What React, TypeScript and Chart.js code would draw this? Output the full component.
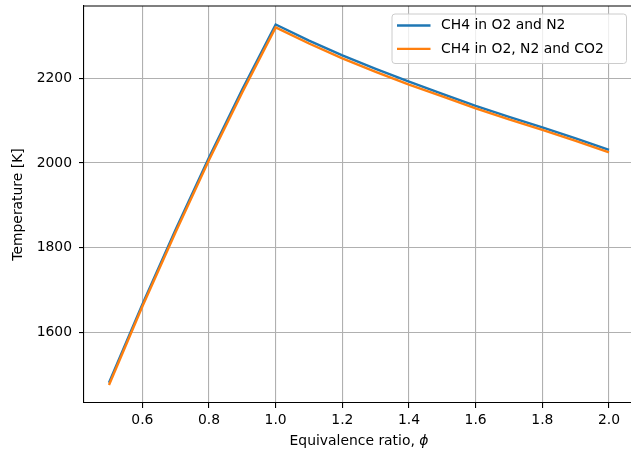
import React, { useEffect, useRef } from "react";
import { Chart, registerables } from "chart.js";

Chart.register(...registerables);

// Equivalence ratio values
const phi = [0.5, 0.6, 0.7, 0.8, 0.9, 1.0, 1.1, 1.2, 1.3, 1.4, 1.5, 1.6, 1.7, 1.8, 1.9, 2.0];
// Adiabatic flame temperature [K], CH4 burned in O2 + N2
const tempO2N2 = [1481, 1666, 1843, 2013, 2174, 2327, 2289, 2254, 2222, 2192, 2163, 2135, 2109, 2084, 2058, 2031];
// Adiabatic flame temperature [K], CH4 burned in O2 + N2 + CO2
const tempO2N2CO2 = [1476, 1661, 1837, 2007, 2167, 2320, 2282, 2247, 2215, 2185, 2157, 2129, 2103, 2078, 2052, 2025];

const seriesLabels = ["CH4 in O2 and N2", "CH4 in O2, N2 and CO2"];
const seriesColors = ["#1f77b4", "#ff7f0e"];
const xTicks = [0.6, 0.8, 1.0, 1.2, 1.4, 1.6, 1.8, 2.0];
const yTicks = [1600, 1800, 2000, 2200];
const xTitle = "Equivalence ratio, ";
const xTitleSymbol = "\u03d5";

const FONT = "'DejaVu Sans', sans-serif";
const FS = 13.9;
const LW = 2.4;

// Top spine of the axes frame
const frameTop = {
  id: "frameTop",
  afterDatasetsDraw(chart: any) {
    const { ctx, chartArea } = chart;
    ctx.save();
    ctx.strokeStyle = "#000";
    ctx.lineWidth = 1.1;
    ctx.beginPath();
    ctx.moveTo(chartArea.left, chartArea.top);
    ctx.lineTo(chartArea.right, chartArea.top);
    ctx.stroke();
    ctx.restore();
  },
};

// X axis title with an italic phi symbol
const xTitlePlugin = {
  id: "xTitlePlugin",
  afterDraw(chart: any) {
    const { ctx, chartArea } = chart;
    ctx.save();
    ctx.fillStyle = "#000";
    ctx.textBaseline = "middle";
    ctx.textAlign = "left";
    const plain = `${FS}px ${FONT}`;
    const ital = `italic ${FS}px ${FONT}`;
    ctx.font = plain;
    const w1 = ctx.measureText(xTitle).width;
    ctx.font = ital;
    const w2 = ctx.measureText(xTitleSymbol).width;
    const center = (chartArea.left + chartArea.right) / 2;
    const x0 = center - (w1 + w2) / 2;
    const y = 441;
    ctx.font = plain;
    ctx.fillText(xTitle, x0, y);
    ctx.font = ital;
    ctx.fillText(xTitleSymbol, x0 + w1, y);
    ctx.restore();
  },
};

// Legend box in the upper right corner of the plot area
const innerLegend = {
  id: "innerLegend",
  afterDraw(chart: any) {
    const { ctx, chartArea } = chart;
    const right = chartArea.right - 7.5;
    const top = chartArea.top + 8;
    const w = 234.5;
    const h = 49.5;
    const left = right - w;
    ctx.save();
    ctx.beginPath();
    const r = 3;
    ctx.moveTo(left + r, top);
    ctx.lineTo(right - r, top);
    ctx.arcTo(right, top, right, top + r, r);
    ctx.lineTo(right, top + h - r);
    ctx.arcTo(right, top + h, right - r, top + h, r);
    ctx.lineTo(left + r, top + h);
    ctx.arcTo(left, top + h, left, top + h - r, r);
    ctx.lineTo(left, top + r);
    ctx.arcTo(left, top, left + r, top, r);
    ctx.closePath();
    ctx.fillStyle = "rgba(255,255,255,0.8)";
    ctx.fill();
    ctx.strokeStyle = "#cccccc";
    ctx.lineWidth = 1;
    ctx.stroke();

    ctx.font = `${FS}px ${FONT}`;
    ctx.textBaseline = "middle";
    ctx.textAlign = "left";
    seriesLabels.forEach((label, i) => {
      const y = top + 11.5 + i * 23.4;
      ctx.strokeStyle = seriesColors[i];
      ctx.lineWidth = LW;
      ctx.beginPath();
      ctx.moveTo(left + 5, y);
      ctx.lineTo(left + 38.5, y);
      ctx.stroke();
      ctx.fillStyle = "#000";
      ctx.fillText(label, left + 49, y);
    });
    ctx.restore();
  },
};

export default function App() {
  const ref = useRef<HTMLCanvasElement | null>(null);

  useEffect(() => {
    if (!ref.current) return;
    const chart = new Chart(ref.current, {
      type: "line",
      data: {
        datasets: [
          {
            label: seriesLabels[0],
            data: phi.map((x, i) => ({ x, y: tempO2N2[i] })),
            borderColor: seriesColors[0],
            borderWidth: LW,
            pointRadius: 0,
            tension: 0,
            order: 2,
          },
          {
            label: seriesLabels[1],
            data: phi.map((x, i) => ({ x, y: tempO2N2CO2[i] })),
            borderColor: seriesColors[1],
            borderWidth: LW,
            pointRadius: 0,
            tension: 0,
            order: 1,
          },
        ],
      },
      options: {
        responsive: false,
        animation: false,
        events: [],
        layout: { padding: { top: 6, right: 6, left: 0, bottom: 0 } },
        plugins: { legend: { display: false }, tooltip: { enabled: false } },
        scales: {
          x: {
            type: "linear",
            min: 0.425,
            max: 2.075,
            afterBuildTicks: (s: any) => {
              s.ticks = xTicks.map((v) => ({ value: v }));
            },
            afterFit: (s: any) => {
              s.height = 52;
              s.paddingLeft = 0;
              s.paddingRight = 0;
            },
            grid: { color: "#b0b0b0", lineWidth: 1.1, tickColor: "#000", tickLength: 5 },
            border: { display: true, color: "#000", width: 1.1 },
            ticks: {
              color: "#000",
              font: { family: FONT, size: FS },
              padding: 4,
              maxRotation: 0,
              callback: (v: any) => Number(v).toFixed(1),
            },
            title: { display: false },
          },
          y: {
            type: "linear",
            min: 1433.4,
            max: 2370.6,
            afterBuildTicks: (s: any) => {
              s.ticks = yTicks.map((v) => ({ value: v }));
            },
            afterFit: (s: any) => {
              s.width = 84;
              s.paddingTop = 0;
              s.paddingBottom = 0;
            },
            grid: { color: "#b0b0b0", lineWidth: 1.1, tickColor: "#000", tickLength: 5 },
            border: { display: true, color: "#000", width: 1.1 },
            ticks: {
              color: "#000",
              font: { family: FONT, size: FS },
              padding: 7,
              callback: (v: any) => String(v),
            },
            title: {
              display: true,
              text: "Temperature [K]",
              color: "#000",
              font: { family: FONT, size: FS },
              padding: { top: 10.5, bottom: 0 },
            },
          },
        },
      },
      plugins: [frameTop, innerLegend, xTitlePlugin],
    });
    return () => chart.destroy();
  }, []);

  return (
    <div
      style={{
        position: "fixed",
        left: 0,
        top: 0,
        width: 631,
        height: 455,
        overflow: "hidden",
        background: "#fff",
      }}
    >
      <canvas ref={ref} width={640} height={455} style={{ display: "block" }} />
    </div>
  );
}
